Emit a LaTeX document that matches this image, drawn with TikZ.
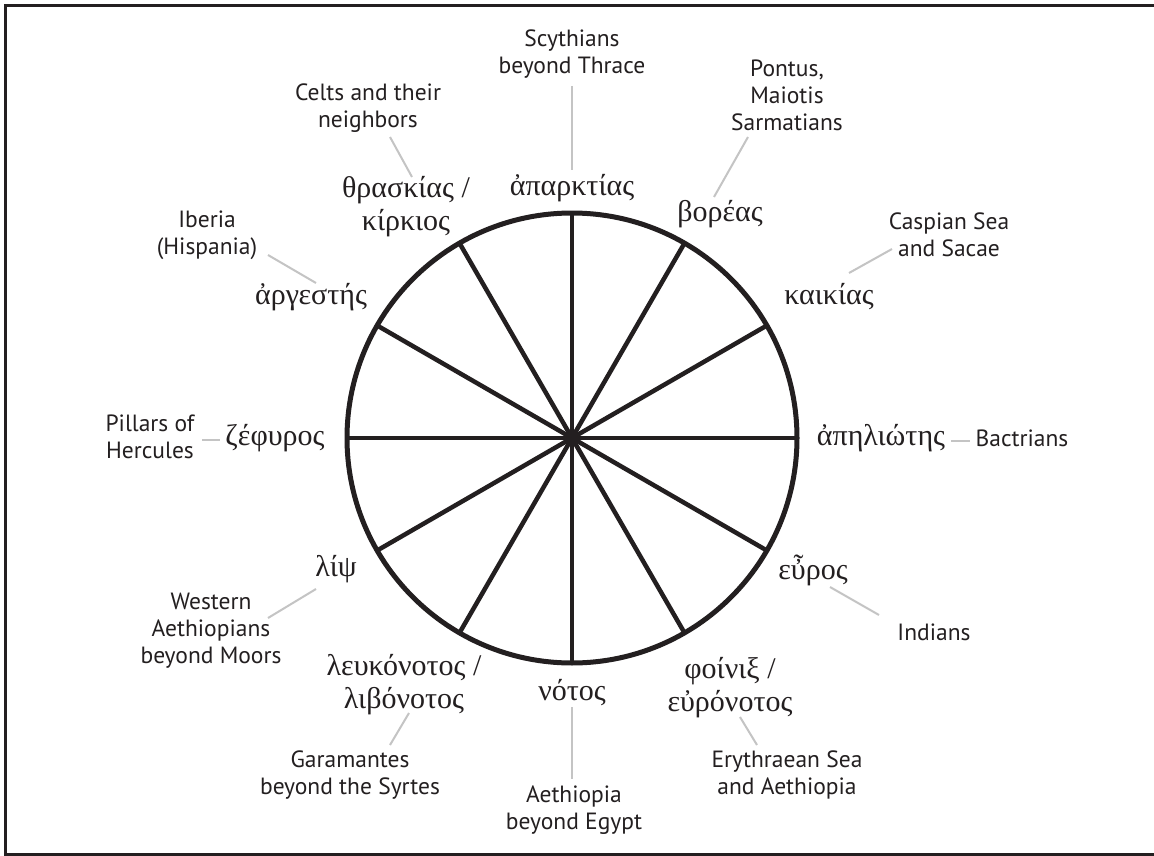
\documentclass[tikz,border=0pt]{standalone}
\usepackage{fontspec}
\newfontfamily\grkfont{Liberation Serif}
\newfontfamily\engfont{PT Sans}
\usetikzlibrary{positioning}
\definecolor{ink}{HTML}{231F20}
\definecolor{leadgray}{HTML}{C4C4C4}
\tikzset{
  wind/.style={font=\grkfont\fontsize{30}{33}\selectfont, text=ink, align=center, inner sep=0pt},
  people/.style={font=\engfont\fontsize{23.5}{27}\selectfont, text=ink, align=center, inner sep=0pt},
  leader/.style={draw=leadgray, line width=2pt},
  spoke/.style={draw=ink, line width=4.5pt},
  rim/.style={draw=ink, line width=5pt},
  frame/.style={draw=ink, line width=3pt}
}
\begin{document}
\begin{tikzpicture}[x=1pt,y=-1pt]
  \useasboundingbox (0,0) rectangle (1154,856);
  \fill[white] (0,0) rectangle (1154,856);
  \draw[frame] (5,6) rectangle (1160,854);

  \coordinate (hub) at (572,438);
  \foreach \a in {0,30,...,330}
    \draw[spoke] (hub) -- ++(\a:225);
  \draw[rim] (hub) circle[radius=225pt];

  \node[wind] (aparktias) at (572,188) {ἀπαρκτίας};
  \node[wind] (thraskias) at (406,207) {θρασκίας /\\κίρκιος};
  \node[wind] (boreas) at (720,214) {βορέας};
  \node[wind] (argestes) at (311,297) {ἀργεστής};
  \node[wind] (kaikias) at (829,297) {καικίας};
  \node[wind] (zephyros) at (275,438) {ζέφυρος};
  \node[wind] (apeliotes) at (881,438) {ἀπηλιώτης};
  \node[wind] (lips) at (336,569) {λίψ};
  \node[wind] (euros) at (813,570) {εὖρος};
  \node[wind] (leukonotos) at (404,685) {λευκόνοτος /\\λιβόνοτος};
  \node[wind] (notos) at (572,693) {νότος};
  \node[wind] (phoinix) at (730,688) {φοίνιξ /\\εὐρόνοτος};

  \node[people] (scythians) at (572,54) {Scythians\\beyond Thrace};
  \node[people] (celts) at (368,108) {Celts and their\\neighbors};
  \node[people] (pontus) at (787,95) {Pontus,\\Maiotis\\Sarmatians};
  \node[people] (caspian) at (949,235) {Caspian Sea\\and Sacae};
  \node[people] (iberia) at (207,235) {Iberia\\(Hispania)};
  \node[people] (pillars) at (150,437) {Pillars of\\Hercules};
  \node[people] (bactrians) at (1022,438) {Bactrians};
  \node[people] (western) at (211,631) {Western\\Aethiopians\\beyond Moors};
  \node[people] (indians) at (934,632) {Indians};
  \node[people] (garamantes) at (350,775) {Garamantes\\beyond the Syrtes};
  \node[people] (egypt) at (574,810) {Aethiopia\\beyond Egypt};
  \node[people] (erythraean) at (787,775) {Erythraean Sea\\and Aethiopia};

  \coordinate (scythians-a) at (572,86);
  \coordinate (scythians-b) at (572,170);
  \coordinate (celts-a) at (390,137);
  \coordinate (celts-b) at (412,177);
  \coordinate (pontus-a) at (748,137);
  \coordinate (pontus-b) at (714,197);
  \coordinate (caspian-a) at (892,249);
  \coordinate (caspian-b) at (849,273);
  \coordinate (iberia-a) at (268,255);
  \coordinate (iberia-b) at (316,283);
  \coordinate (pillars-a) at (202,440);
  \coordinate (pillars-b) at (220,440);
  \coordinate (bactrians-a) at (951,441);
  \coordinate (bactrians-b) at (970,441);
  \coordinate (western-a) at (316,589);
  \coordinate (western-b) at (268,618);
  \coordinate (indians-a) at (830,587);
  \coordinate (indians-b) at (879,615);
  \coordinate (garamantes-a) at (409,713);
  \coordinate (garamantes-b) at (390,745);
  \coordinate (egypt-a) at (572,707);
  \coordinate (egypt-b) at (572,779);
  \coordinate (erythraean-a) at (740,717);
  \coordinate (erythraean-b) at (757,745);

  \foreach \n in {scythians,celts,pontus,caspian,iberia,pillars,bactrians,western,indians,garamantes,egypt,erythraean}
    \draw[leader] (\n-a) -- (\n-b);
\end{tikzpicture}
\end{document}
